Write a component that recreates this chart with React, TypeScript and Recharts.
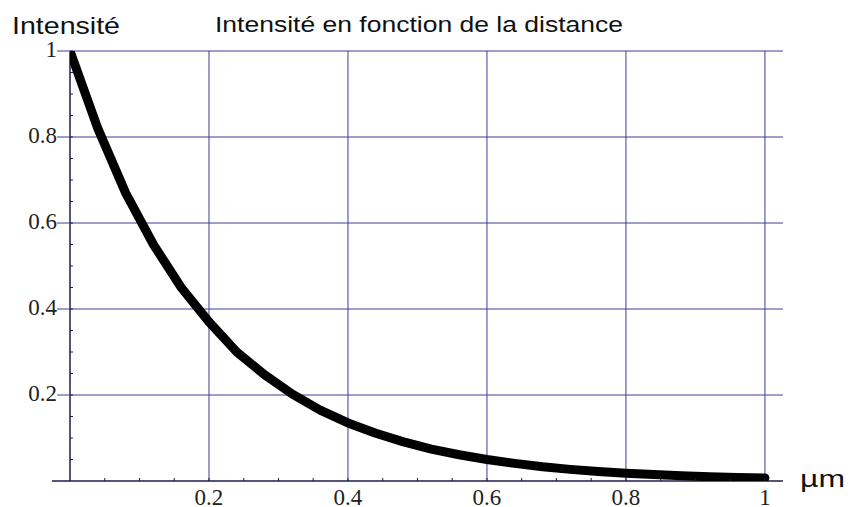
import React from "react";
import { LineChart, Line, XAxis, YAxis, ReferenceLine } from "recharts";

const distance = [0, 0.04, 0.08, 0.12, 0.16, 0.2, 0.24, 0.28, 0.32, 0.36, 0.4, 0.44, 0.48, 0.52, 0.56, 0.6, 0.64, 0.68, 0.72, 0.76, 0.8, 0.84, 0.88, 0.92, 0.96, 1.0];
const intensity = [1.0, 0.82, 0.67, 0.55, 0.45, 0.37, 0.3, 0.247, 0.202, 0.165, 0.135, 0.111, 0.091, 0.074, 0.061, 0.05, 0.041, 0.033, 0.027, 0.022, 0.018, 0.015, 0.012, 0.01, 0.008, 0.007];

const xMajorTicks = [0.2, 0.4, 0.6, 0.8, 1];
const xMinorTicks = [0.05, 0.1, 0.15, 0.25, 0.3, 0.35, 0.45, 0.5, 0.55, 0.65, 0.7, 0.75, 0.85, 0.9, 0.95];
const yMajorTicks = [0.2, 0.4, 0.6, 0.8, 1];
const yMinorTicks = [0.05, 0.1, 0.15, 0.25, 0.3, 0.35, 0.45, 0.5, 0.55, 0.65, 0.7, 0.75, 0.85, 0.9, 0.95];
const xDomainMax = 1.026;
const xAxisStart = -0.026;

const title = "Intensité en fonction de la distance";
const yTitle = "Intensité";
const xTitle = "µm";

const data = distance.map((x, i) => ({ x, y: intensity[i] }));
const xTicksAll = [...xMajorTicks, ...xMinorTicks].sort((a, b) => a - b);
const yTicksAll = [...yMajorTicks, ...yMinorTicks].sort((a, b) => a - b);

const GRID = "#3c3c96";
const AXIS = "#1c1c48";
const SERIF = "Liberation Serif, DejaVu Serif, serif";
const SANS = "Liberation Sans, Arial, sans-serif";

const fmt = (v: number) => (v === 1 ? "1" : String(v));

const XTick = (props: any) => {
  const { x, y, payload } = props;
  const v = payload.value;
  const major = xMajorTicks.some((m) => Math.abs(m - v) < 1e-9);
  return (
    <g>
      <line x1={x} x2={x} y1={y} y2={y - 3} stroke={AXIS} strokeWidth={1} />
      {major && (
        <text x={x} y={y + 24} textAnchor="middle" style={{ fontFamily: SERIF, fontSize: 23 }} fill="#222">
          {fmt(v)}
        </text>
      )}
    </g>
  );
};

const YTick = (props: any) => {
  const { x, y, payload } = props;
  const v = payload.value;
  const major = yMajorTicks.some((m) => Math.abs(m - v) < 1e-9);
  return (
    <g>
      <line x1={x} x2={x + 3} y1={y} y2={y} stroke={AXIS} strokeWidth={1} />
      {major && <line x1={x - 13} x2={x} y1={y} y2={y} stroke={GRID} strokeWidth={1} />}
      {major && (
        <text x={x - 13} y={y + 6} textAnchor="end" style={{ fontFamily: SERIF, fontSize: 23 }} fill="#222">
          {fmt(v)}
        </text>
      )}
    </g>
  );
};

export default function App() {
  return (
    <div style={{ position: "absolute", left: 0, top: 0, width: 850, height: 507, background: "#fff" }}>
      <LineChart width={850} height={507} data={data} margin={{ top: 51, right: 67, bottom: 0, left: 0 }}>
        <XAxis
          dataKey="x"
          type="number"
          domain={[0, xDomainMax]}
          allowDataOverflow
          ticks={xTicksAll}
          interval={0}
          height={26}
          axisLine={false}
          tickLine={false}
          tickSize={0}
          tickMargin={0}
          tick={<XTick />}
        />
        <YAxis
          type="number"
          domain={[0, 1]}
          allowDataOverflow
          ticks={yTicksAll}
          interval={0}
          width={70}
          axisLine={false}
          tickLine={false}
          tickSize={0}
          tickMargin={0}
          tick={<YTick />}
        />
        {yMajorTicks.map((v) => (
          <ReferenceLine key={"gy" + v} y={v} stroke={GRID} strokeWidth={1} />
        ))}
        {xMajorTicks.map((v) => (
          <ReferenceLine key={"gx" + v} x={v} stroke={GRID} strokeWidth={1} />
        ))}
        <ReferenceLine
          segment={[{ x: xAxisStart, y: 0 }, { x: xDomainMax, y: 0 }]}
          ifOverflow="visible"
          stroke={AXIS}
          strokeWidth={1.5}
        />
        <ReferenceLine x={0} stroke={AXIS} strokeWidth={1.5} />
        <Line
          dataKey="y"
          type="linear"
          stroke="#000"
          strokeWidth={9}
          strokeLinecap="round"
          strokeLinejoin="round"
          dot={false}
          activeDot={false}
          isAnimationActive={false}
        />
      </LineChart>
      <svg width={850} height={507} style={{ position: "absolute", left: 0, top: 0, pointerEvents: "none" }}>
        <text x={12} y={34} fontFamily={SANS} fontSize={24} textLength={108} lengthAdjust="spacingAndGlyphs" fill="#111">
          {yTitle}
        </text>
        <text x={215} y={32} fontFamily={SANS} fontSize={22} textLength={408} lengthAdjust="spacingAndGlyphs" fill="#111">
          {title}
        </text>
        <text x={800} y={487} fontFamily={SANS} fontSize={23} textLength={45} lengthAdjust="spacingAndGlyphs" fill="#111">
          {xTitle}
        </text>
      </svg>
    </div>
  );
}
